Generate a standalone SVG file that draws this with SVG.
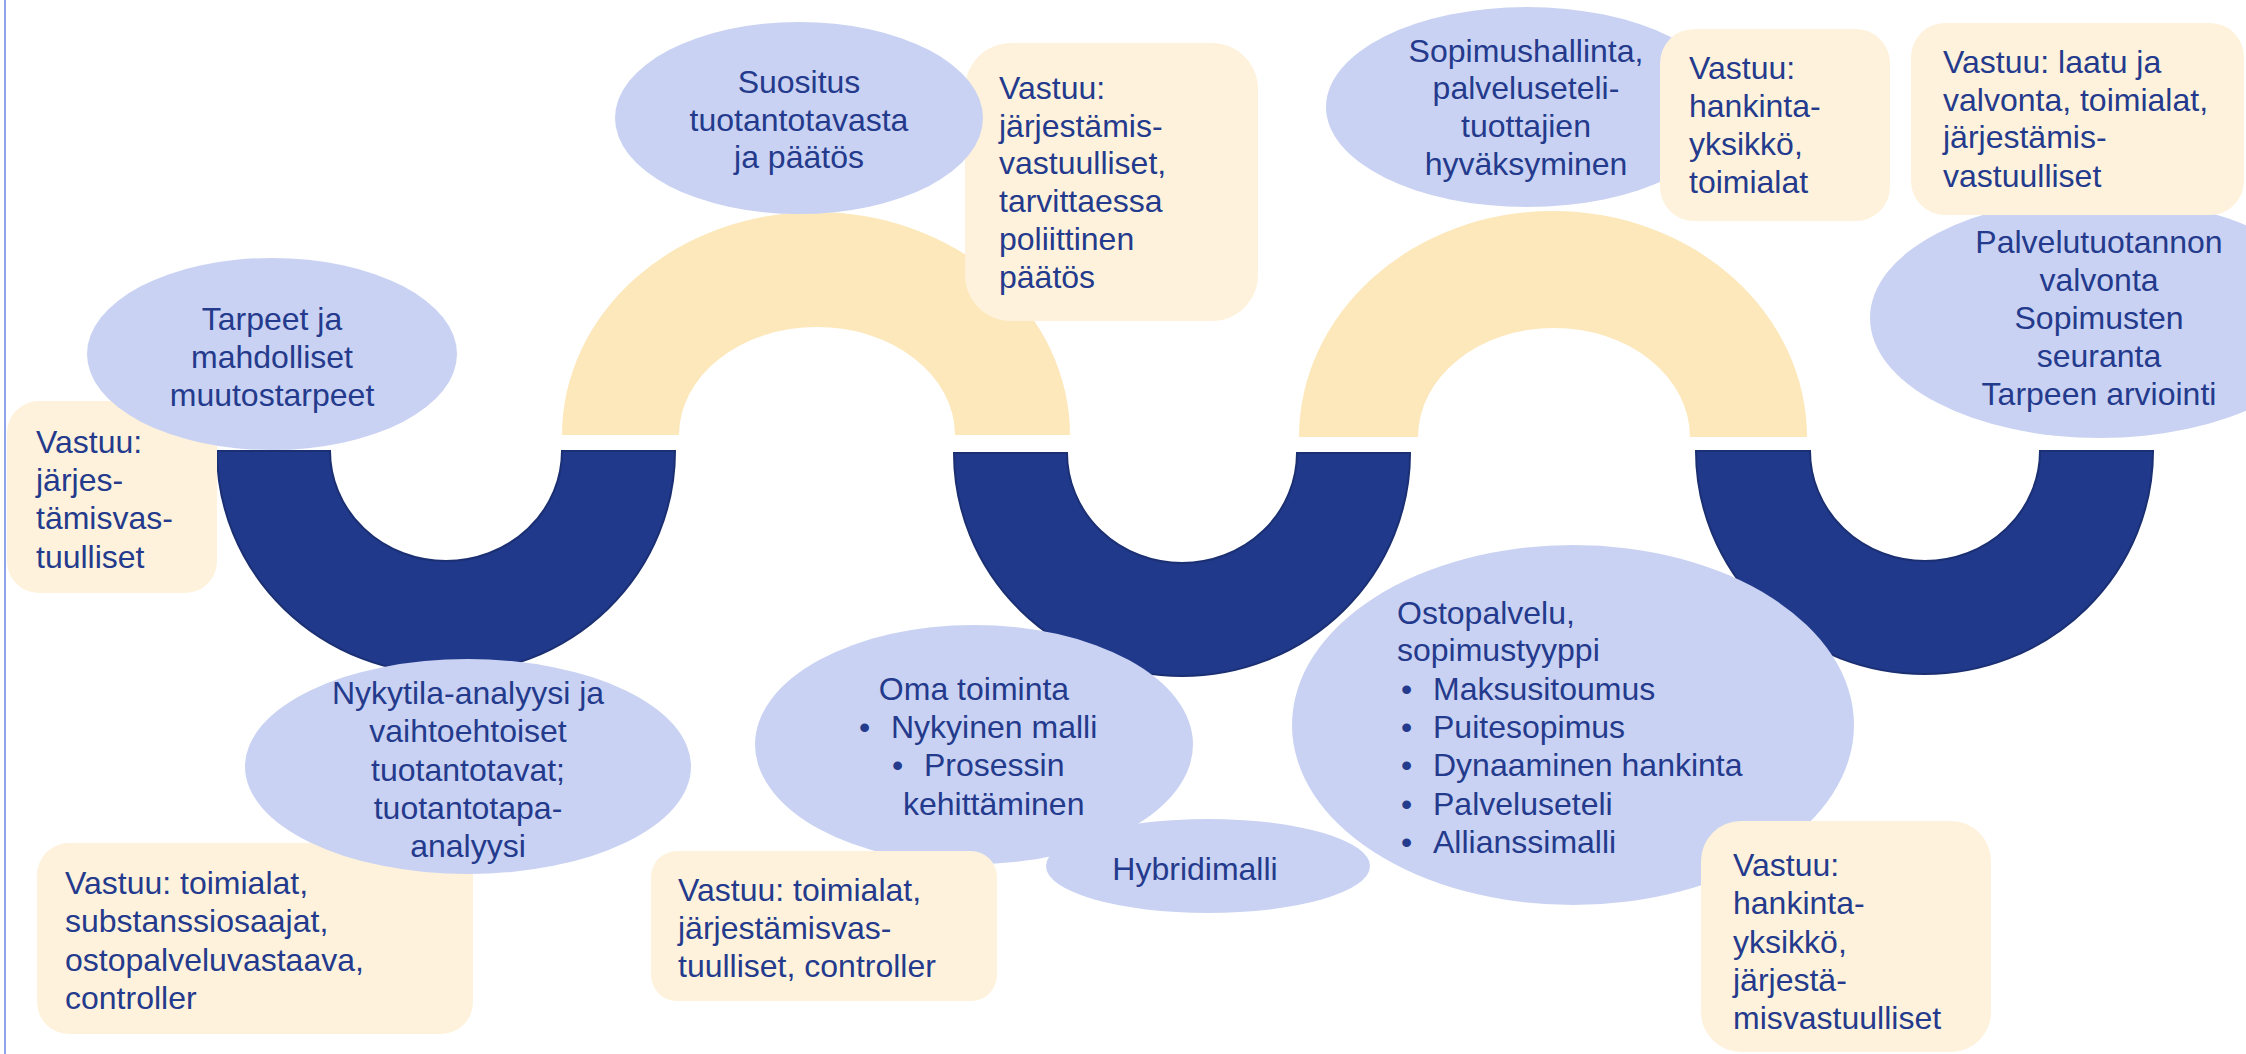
<svg xmlns="http://www.w3.org/2000/svg" width="2246" height="1054" viewBox="0 0 2246 1054">
<style>
.ring{fill:#21398B;stroke:#1B2F73;stroke-width:2}
.arch{fill:#FDE8BB}
.ell{fill:#C9D2F2}
.box{fill:#FEF2DC}
text{font-family:"Liberation Sans",Arial,sans-serif;font-size:32px;fill:#243A8C}
.c{text-anchor:middle}
</style>
<rect x="0" y="0" width="2246" height="1054" fill="#FFFFFF"/>
<line x1="5" y1="0" x2="5" y2="1054" stroke="#8FA3E8" stroke-width="2"/>
<g id="connectors">
<path id="ring1" class="ring" d="M217,451 A229,223 0 0 0 675,451 L562,451 A116,110 0 0 1 330,451 Z"/>
<path id="arch2" class="arch" d="M562,435 A254,223 0 0 1 1070,435 L955,435 A138,108 0 0 0 679,435 Z"/>
<path id="ring3" class="ring" d="M954,453 A228,223 0 0 0 1410,453 L1297,453 A115,110 0 0 1 1067,453 Z"/>
<path id="arch4" class="arch" d="M1299,437 A254,226 0 0 1 1807,437 L1690,437 A136,109 0 0 0 1418,437 Z"/>
<path id="ring5" class="ring" d="M1696,451 A228.5,223 0 0 0 2153,451 L2040,451 A115,110 0 0 1 1810,451 Z"/>
</g>
<g id="b1"><rect class="box" x="7" y="401" width="210" height="192" rx="32"/>
<text x="36" y="453">Vastuu:</text><text x="36" y="491">järjes-</text><text x="36" y="529">tämisvas-</text><text x="36" y="568">tuulliset</text></g>
<g id="e1"><ellipse class="ell" cx="272" cy="354" rx="185" ry="96"/>
<text class="c" x="272" y="330">Tarpeet ja</text><text class="c" x="272" y="368">mahdolliset</text><text class="c" x="272" y="406">muutostarpeet</text></g>
<g id="b2"><rect class="box" x="965" y="43" width="293" height="278" rx="46"/>
<text x="999" y="99">Vastuu:</text><text x="999" y="137">järjestämis-</text><text x="999" y="174">vastuulliset,</text><text x="999" y="212">tarvittaessa</text><text x="999" y="250">poliittinen</text><text x="999" y="288">päätös</text></g>
<g id="e2"><ellipse class="ell" cx="799" cy="118" rx="184" ry="96"/>
<text class="c" x="799" y="93">Suositus</text><text class="c" x="799" y="131">tuotantotavasta</text><text class="c" x="799" y="168">ja päätös</text></g>
<g id="e3"><ellipse class="ell" cx="1527" cy="107" rx="201" ry="100"/>
<text class="c" x="1526" y="62">Sopimushallinta,</text><text class="c" x="1526" y="99">palveluseteli-</text><text class="c" x="1526" y="137">tuottajien</text><text class="c" x="1526" y="175">hyväksyminen</text></g>
<g id="b3"><rect class="box" x="1660" y="29" width="230" height="192" rx="34"/>
<text x="1689" y="79">Vastuu:</text><text x="1689" y="117">hankinta-</text><text x="1689" y="155">yksikkö,</text><text x="1689" y="193">toimialat</text></g>
<g id="e4"><ellipse class="ell" cx="2100" cy="318" rx="230" ry="120"/>
<text class="c" x="2099" y="253">Palvelutuotannon</text><text class="c" x="2099" y="291">valvonta</text><text class="c" x="2099" y="329">Sopimusten</text><text class="c" x="2099" y="367">seuranta</text><text class="c" x="2099" y="405">Tarpeen arviointi</text></g>
<g id="b4"><rect class="box" x="1911" y="23" width="333" height="192" rx="34"/>
<text x="1943" y="73">Vastuu: laatu ja</text><text x="1943" y="111">valvonta, toimialat,</text><text x="1943" y="148">järjestämis-</text><text x="1943" y="187">vastuulliset</text></g>
<g id="b5"><rect class="box" x="37" y="843" width="436" height="191" rx="32"/>
<text x="65" y="894">Vastuu: toimialat,</text><text x="65" y="932">substanssiosaajat,</text><text x="65" y="971">ostopalveluvastaava,</text><text x="65" y="1009">controller</text></g>
<g id="e5"><ellipse class="ell" cx="468" cy="766.5" rx="223" ry="107.5"/>
<text class="c" x="468" y="704">Nykytila-analyysi ja</text><text class="c" x="468" y="742">vaihtoehtoiset</text><text class="c" x="468" y="781">tuotantotavat;</text><text class="c" x="468" y="819">tuotantotapa-</text><text class="c" x="468" y="857">analyysi</text></g>
<g id="e6"><ellipse class="ell" cx="974" cy="744.5" rx="219" ry="119.5"/>
<text class="c" x="974" y="700">Oma toiminta</text>
<text x="859" y="738">•</text><text x="891" y="738">Nykyinen malli</text>
<text x="892" y="776">•</text><text x="924" y="776">Prosessin</text>
<text x="903" y="815">kehittäminen</text></g>
<g id="b6"><rect class="box" x="651" y="851" width="346" height="150" rx="26"/>
<text x="678" y="901">Vastuu: toimialat,</text><text x="678" y="939">järjestämisvas-</text><text x="678" y="977">tuulliset, controller</text></g>
<g id="e7"><ellipse class="ell" cx="1208" cy="866" rx="162" ry="47"/>
<text class="c" x="1195" y="880">Hybridimalli</text></g>
<g id="e8"><ellipse class="ell" cx="1573" cy="725" rx="281" ry="180"/>
<text x="1397" y="624">Ostopalvelu,</text><text x="1397" y="661">sopimustyyppi</text>
<text x="1401" y="700">•</text><text x="1433" y="700">Maksusitoumus</text>
<text x="1401" y="738">•</text><text x="1433" y="738">Puitesopimus</text>
<text x="1401" y="776">•</text><text x="1433" y="776">Dynaaminen hankinta</text>
<text x="1401" y="815">•</text><text x="1433" y="815">Palveluseteli</text>
<text x="1401" y="853">•</text><text x="1433" y="853">Allianssimalli</text></g>
<g id="b7"><rect class="box" x="1701" y="821" width="290" height="231" rx="40"/>
<text x="1733" y="876">Vastuu:</text><text x="1733" y="914">hankinta-</text><text x="1733" y="953">yksikkö,</text><text x="1733" y="991">järjestä-</text><text x="1733" y="1029">misvastuulliset</text></g>
</svg>
